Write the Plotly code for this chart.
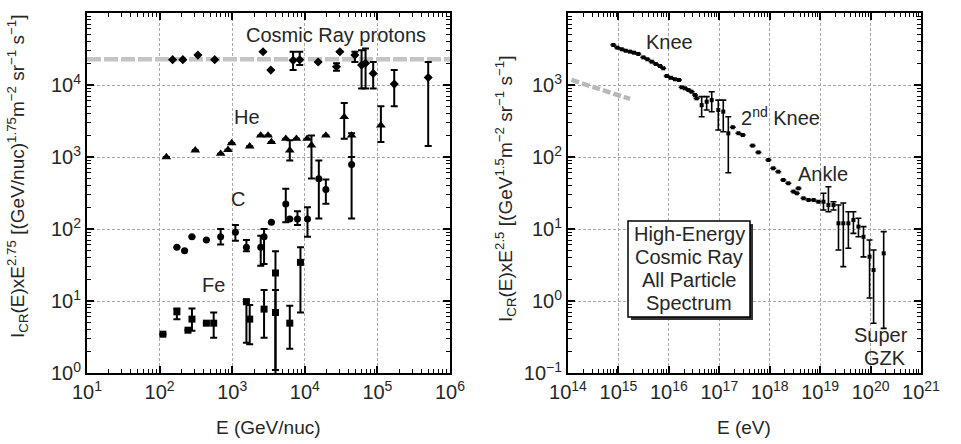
import plotly.graph_objects as go

W, H = 961, 444

# ---------------- data: left panel (per-nucleon spectra) ----------------
p_E  = [151, 209, 574, 337, 2660, 3400, 6900, 8510, 15280, 27350, 30400, 49000, 60500, 68700, 87500, 170600, 501000]
p_I  = [2.25e4, 2.25e4, 2.25e4, 2.6e4, 2.89e4, 1.61e4, 2.2e4, 2.24e4, 2.09e4, 1.79e4, 2.89e4, 2.6e4, 1.89e4, 2.0e4, 1.45e4, 1.03e4, 1.27e4]
p_hi = [None, None, None, None, None, None, 2.89e4, 2.89e4, None, 2.0e4, None, 2.89e4, 3.05e4, 3.22e4, 2.09e4, 1.61e4, 2.09e4]
p_lo = [None, None, None, None, None, None, 1.61e4, 1.89e4, None, 1.58e4, None, 2.09e4, 8930, 8930, 8930, 5070, 1420]

he_E  = [124, 310, 693, 875, 984, 1742, 2470, 3120, 3467, 5470, 6210, 7670, 10760, 12360, 19500, 34900, 44100, 111700]
he_I  = [998, 1236, 1112, 1259, 1563, 1406, 1995, 1995, 1622, 1799, 1236, 1799, 1799, 1452, 1995, 3597, 1995, 2754]
he_hi = [None, None, None, None, None, None, None, None, None, None, 1702, None, None, 1995, None, 5640, 2140, 5070]
he_lo = [None, None, None, None, None, None, None, None, None, None, 897, None, None, 501, None, 1799, 1000, 1614]

c_E  = [173, 221, 279, 441, 693, 1107, 1570, 2470, 2748, 3467, 5470, 6210, 7925, 10890, 15600, 19500, 44100]
c_I  = [55.6, 50.0, 78.3, 70.5, 78.3, 89.9, 55.6, 55.6, 78.3, 124, 223, 138, 138, 138, 499, 354, 789]
c_hi = [None, None, None, None, 100, 114, 70.5, 80.9, 100, None, 361, None, 177, 200, 897, 488, 1000]
c_lo = [None, None, None, None, 60.7, 68.9, 48.9, 30.9, 32.7, None, 124, None, 114, 78.3, 140, 224, 140]

fe_E  = [111, 173, 246, 279, 441, 556, 1570, 1742, 2748, 3945, 3945, 6210, 8710]
fe_I  = [3.46, 7.08, 3.93, 5.60, 4.92, 4.92, 9.75, 5.60, 7.71, 24.5, 6.92, 4.92, 34.4]
fe_hi = [None, 7.87, None, 7.87, None, 6.92, 10.5, 8.77, 14.2, 49.0, 14.2, 8.57, 55.6]
fe_lo = [None, 5.60, None, 3.85, None, 3.09, 2.64, 2.51, 3.09, 1.1, 0.5, 2.18, 6.92]

pfit_E = [10, 1e6]
pfit_I = [2.27e4, 2.27e4]

# ---------------- data: right panel (all-particle spectrum) ----------------
a_E = [7.93e14, 9.51e14, 1.164e15, 1.396e15, 1.698e15, 2.04e15, 2.48e15, 3.12e15, 3.75e15, 4.57e15,
       5.50e15, 6.68e15, 7.76e15, 9.08e15, 1.096e16, 1.318e16, 1.585e16, 1.80e16, 2.09e16, 2.45e16,
       2.82e16, 3.31e16, 3.55e16, 4.47e16, 5.62e16, 7.08e16, 9.55e16, 1.20e17, 1.51e17, 1.85e17,
       2.40e17, 2.92e17, 4.57e17, 5.97e17, 9.42e17, 1.175e18, 1.48e18, 1.86e18, 2.34e18, 2.95e18,
       3.44e18, 3.72e18, 4.68e18, 5.89e18, 7.41e18, 9.25e18, 1.164e19, 1.46e19, 1.84e19, 2.31e19,
       2.88e19, 3.63e19, 4.57e19, 5.75e19, 7.24e19, 9.55e19, 1.148e20, 1.82e20]
a_I = [3597, 3296, 3133, 2992, 2904, 2812, 2698, 2421, 2275, 2109,
       1959, 1837, 1706, 1334, 1259, 1202, 1175, 929, 899, 851,
       807, 726, 653, 525, 586, 617, 450, 427, 213, 259,
       214, 202, 144, 116, 90.8, 69.7, 62.5, 47.9, 43.2, 33.1,
       31.3, 36.7, 26.7, 25.3, 25.3, 23.9, 23.9, 21.5, 21.5, 12.0,
       12.0, 12.0, 13.3, 10.8, 7.8, 4.12, 2.69, 4.59]
a_hi = [None]*23 + [689, 689, 807, 617, 617, 363] + [None]*17 + [31.3, 38.7, 23.9, 21.5, 23.0, 17.4, 17.4, 14.1, 10.8, 7.03, 5.1, 9.2]
a_lo = [None]*23 + [363, 450, 426, 237, 224, 60.5] + [None]*17 + [18.4, 17.4, 18.4, 5.1, 3.0, 5.4, 8.7, 7.8, 4.1, 1.10, 0.49, 0.417]

afit_E = [1.17e14, 1.7e15]
afit_I = [1175, 640]

x_ticks_left = [1e1, 1e2, 1e3, 1e4, 1e5, 1e6]
x_text_left = ["10<sup>1</sup>", "10<sup>2</sup>", "10<sup>3</sup>", "10<sup>4</sup>", "10<sup>5</sup>", "10<sup>6</sup>"]
y_ticks_left = [1e0, 1e1, 1e2, 1e3, 1e4, 1e5]
y_text_left = ["10<sup>0</sup>", "10<sup>1</sup>", "10<sup>2</sup>", "10<sup>3</sup>", "10<sup>4</sup>", "10<sup>5</sup>"]
x_ticks_right = [10.0**k for k in range(14, 22)]
x_text_right = ["10<sup>%d</sup>" % k for k in range(14, 22)]
y_ticks_right = [10.0**k for k in range(-1, 5)]
y_text_right = ["10<sup>\u22121</sup>", "10<sup>0</sup>", "10<sup>1</sup>", "10<sup>2</sup>", "10<sup>3</sup>", "10<sup>4</sup>"]

box_lines = ["High-Energy", "Cosmic Ray", "All Particle", "Spectrum"]

FONT = "Liberation Sans, Arial, Helvetica, sans-serif"
TXT = "#262626"


def errs(v, hi, lo):
    up = [None if h is None else h - x for x, h in zip(v, hi)]
    dn = [None if l is None else x - l for x, l in zip(v, lo)]
    return up, dn


def minor_vals(a, b):
    out = []
    for k in range(a, b):
        for m in range(2, 10):
            out.append(m * 10.0**k)
    return out


fig = go.Figure()

# gray reference lines
fig.add_trace(go.Scatter(x=pfit_E, y=pfit_I, mode="lines", xaxis="x", yaxis="y",
                         line=dict(color="#c4c4c4", width=4.5, dash="14px,3px"), hoverinfo="skip"))
fig.add_trace(go.Scatter(x=afit_E, y=afit_I, mode="lines", xaxis="x2", yaxis="y2",
                         line=dict(color="#b8b8b8", width=4.5, dash="8px,3px"), hoverinfo="skip"))

series = [
    (p_E, p_I, p_hi, p_lo, "diamond", 7),
    (he_E, he_I, he_hi, he_lo, "triangle-up", 8.5),
    (c_E, c_I, c_hi, c_lo, "circle", 7),
    (fe_E, fe_I, fe_hi, fe_lo, "square", 7),
]
for E, I, hi, lo, sym, sz in series:
    up, dn = errs(I, hi, lo)
    fig.add_trace(go.Scatter(
        x=E, y=I, mode="markers", xaxis="x", yaxis="y",
        marker=dict(symbol=sym, size=sz, color="black", line=dict(width=0)),
        error_y=dict(type="data", array=up, arrayminus=dn, symmetric=False,
                     color="black", thickness=2, width=3.5),
    ))

up, dn = errs(a_I, a_hi, a_lo)
fig.add_trace(go.Scatter(
    x=a_E, y=a_I, mode="markers", xaxis="x2", yaxis="y2",
    marker=dict(symbol="square", size=4, color="black", line=dict(width=0)),
    error_y=dict(type="data", array=up, arrayminus=dn, symmetric=False,
                 color="black", thickness=1.6, width=3),
))


def axis(rng, tv, tt, mv, domain, anchor):
    return dict(
        type="log", range=rng, domain=domain, anchor=anchor, automargin=False,
        showline=True, linecolor="black", linewidth=2, mirror="ticks",
        ticks="inside", ticklen=7, tickwidth=1.5, tickcolor="black",
        tickmode="array", tickvals=tv, ticktext=tt,
        showgrid=True, gridcolor="#a8a8a8", gridwidth=1.2, griddash="3px,2px",
        zeroline=False, tickfont=dict(size=20, color=TXT, family=FONT),
        minor=dict(tickmode="array", tickvals=mv, ticks="inside", ticklen=4,
                   tickwidth=1, tickcolor="black", showgrid=False),
    )


yd = [1 - 373 / H, 1 - 13 / H]
fig.update_layout(
    width=W, height=H, margin=dict(l=0, r=0, t=0, b=0, autoexpand=False),
    paper_bgcolor="white", plot_bgcolor="white", showlegend=False,
    font=dict(family=FONT, size=20, color=TXT),
    xaxis=axis([1, 6], x_ticks_left, x_text_left, minor_vals(1, 6), [87 / W, 450 / W], "y"),
    yaxis=axis([0, 5], y_ticks_left, y_text_left, minor_vals(0, 5), yd, "x"),
    xaxis2=axis([14, 21], x_ticks_right, x_text_right, minor_vals(14, 21), [568 / W, 921 / W], "y2"),
    yaxis2=axis([-1, 4], y_ticks_right, y_text_right, minor_vals(-1, 4), yd, "x2"),
)


def px(x, y, text, **kw):
    d = dict(x=x / W, y=1 - y / H, xref="paper", yref="paper", text=text, showarrow=False,
             xanchor="center", yanchor="middle",
             font=dict(family=FONT, size=kw.pop("size", 20), color=TXT))
    d.update(kw)
    fig.add_annotation(**d)


# axis titles
px(17, 177, "I<sub>CR</sub>(E)xE<sup>2.75</sup> [(GeV/nuc)<sup>1.75</sup>m<sup>\u22122</sup> sr<sup>\u22121</sup> s<sup>\u22121</sup>]",
   textangle=-90, size=19)
px(505, 189, "I<sub>CR</sub>(E)xE<sup>2.5</sup> [(GeV<sup>1.5</sup>m<sup>\u22122</sup> sr<sup>\u22121</sup> s<sup>\u22121</sup>]",
   textangle=-90, size=19)
px(268.5, 427, "E (GeV/nuc)", size=19)
px(744, 427, "E (eV)", size=19)

# labels in left panel
px(336, 35, "Cosmic Ray protons")
px(247, 117, "He")
px(238, 199, "C")
px(213, 285, "Fe")

# labels in right panel
px(669, 42, "Knee")
px(780, 117, "2<sup>nd</sup> Knee")
px(823, 174, "Ankle")
px(910, 335, "Super", xanchor="right")
px(908, 358, "GZK", xanchor="right")

# text box with shadow
fig.add_shape(type="rect", xref="paper", yref="paper", x0=631 / W, x1=753 / W, y0=1 - 320 / H, y1=1 - 224 / H,
              fillcolor="#333333", line=dict(width=0), layer="above")
fig.add_shape(type="rect", xref="paper", yref="paper", x0=628 / W, x1=750 / W, y0=1 - 317 / H, y1=1 - 221 / H,
              fillcolor="white", line=dict(color="black", width=1.5), layer="above")
for i, line in enumerate(box_lines):
    px(689, 234 + 23 * i, line)

fig.write_html("out.html")
